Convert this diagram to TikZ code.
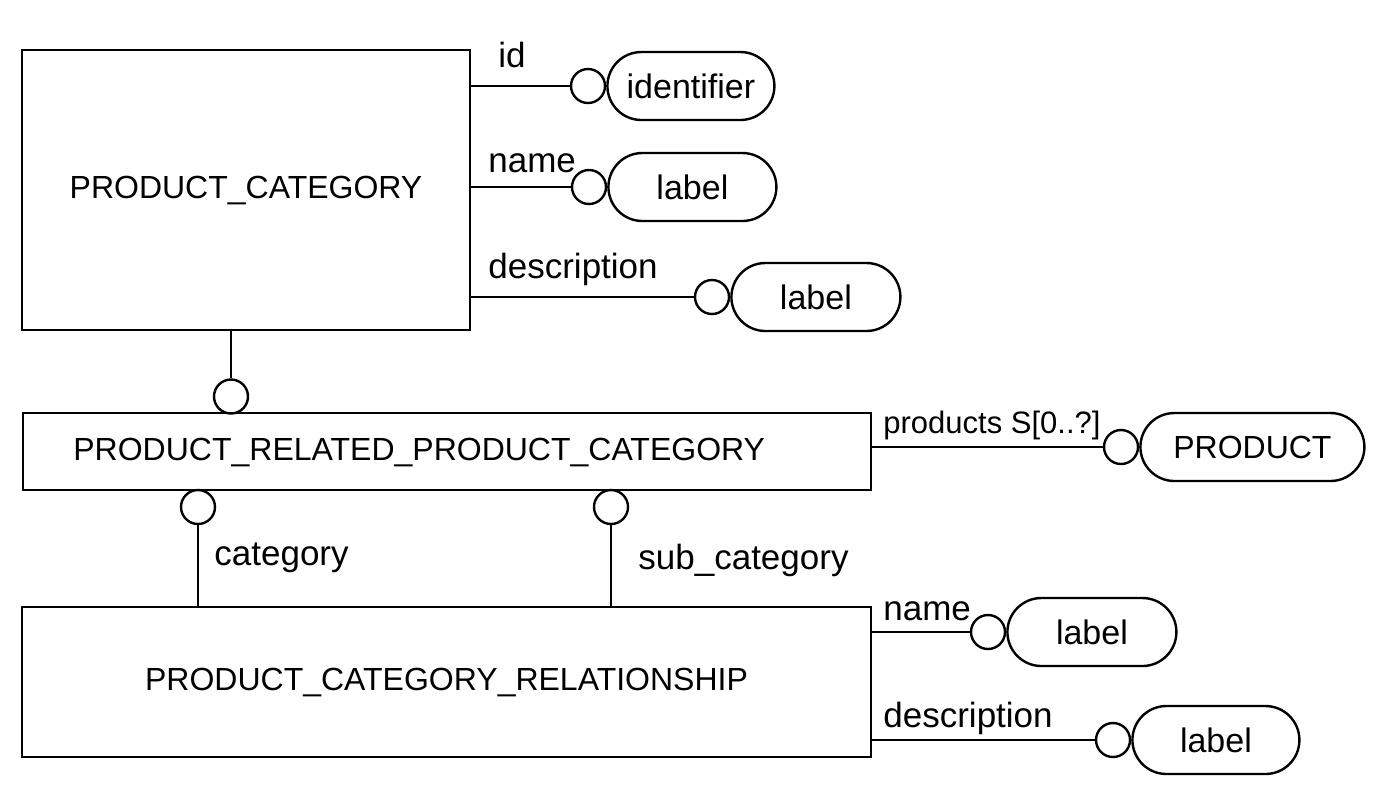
\documentclass[tikz,border=0pt]{standalone}
\usepackage{fontspec}
\setmainfont{Liberation Sans}
\usetikzlibrary{shapes.misc}
\tikzset{
  ent/.style={draw, line width=1.2pt, inner sep=0pt, font=\fontsize{16}{16}\selectfont},
  pill/.style={draw, line width=1.2pt, rounded rectangle, inner sep=0pt, minimum height=34pt, font=\fontsize{17}{17}\selectfont},
  ring/.style={draw, circle, line width=1.2pt, minimum size=17pt, inner sep=0pt},
  lab/.style={anchor=base west, inner sep=0pt, font=\fontsize{17.5}{17.5}\selectfont},
  conn/.style={line width=1.2pt}
}
\begin{document}
\begin{tikzpicture}[x=0.5pt,y=-0.5pt]
\useasboundingbox (0,0) rectangle (1395,789);

% entities
\node[ent, minimum width=224pt, minimum height=140pt] (pc) at (246,190) {PRODUCT\_CATEGORY};
\node[ent, minimum width=424pt, minimum height=38.5pt] (prpc) at (447,451.5) {};
\node[anchor=west, inner sep=0pt, font=\fontsize{16}{16}\selectfont] (prpct) at (73,452) {PRODUCT\_RELATED\_PRODUCT\_CATEGORY};
\node[ent, minimum width=424.5pt, minimum height=75pt] (pcr) at (446.5,682) {PRODUCT\_CATEGORY\_RELATIONSHIP};

% attribute rings and pills of PRODUCT_CATEGORY
\node[ring] (idc) at (588,86) {};
\node[pill, minimum width=83.5pt, anchor=west] (idp) at (idc.east) {identifier};
\node[ring] (nmc) at (589,187) {};
\node[pill, minimum width=84pt, anchor=west] (nmp) at (nmc.east) {label};
\node[ring] (dsc) at (712,297) {};
\node[pill, minimum width=84.5pt, anchor=west] (dsp) at (dsc.east) {label};

\draw[conn] (pc.east |- idc) -- (idc.west);
\draw[conn] (pc.east |- nmc) -- (nmc.west);
\draw[conn] (pc.east |- dsc) -- (dsc.west);
\node[lab] (idl) at (498,67) {id};
\node[lab] (nml) at (488,172) {name};
\node[lab] (dsl) at (488,278) {description};

% link PRODUCT_CATEGORY -- PRODUCT_RELATED_PRODUCT_CATEGORY
\node[ring] (r1) at (231,396.5) {};
\draw[conn] (pc.south -| r1) -- (r1.north);

% products
\node[ring] (prc) at (1121,447) {};
\node[pill, minimum width=112pt, anchor=west, font=\fontsize{16}{16}\selectfont] (prp) at (prc.east) {PRODUCT};
\draw[conn] (prpc.east |- prc) -- (prc.west);
\node[lab, font=\fontsize{15.5}{15.5}\selectfont] (prl) at (883,433) {products S[0..?]};

% links to PRODUCT_CATEGORY_RELATIONSHIP
\node[ring] (r2) at (198,507) {};
\node[ring] (r3) at (611,507) {};
\draw[conn] (r2.south) -- (pcr.north -| r2);
\draw[conn] (r3.south) -- (pcr.north -| r3);
\node[lab] (catl) at (214,565) {category};
\node[lab] (subl) at (638,569) {sub\_category};

% attributes of PRODUCT_CATEGORY_RELATIONSHIP
\node[ring] (nm2c) at (988,632) {};
\node[pill, minimum width=84.5pt, anchor=west] (nm2p) at (nm2c.east) {label};
\node[ring] (ds2c) at (1113,740) {};
\node[pill, minimum width=83.5pt, anchor=west] (ds2p) at (ds2c.east) {label};
\draw[conn] (pcr.east |- nm2c) -- (nm2c.west);
\draw[conn] (pcr.east |- ds2c) -- (ds2c.west);
\node[lab] (nm2l) at (883,620) {name};
\node[lab] (ds2l) at (883,727) {description};
\end{tikzpicture}
\end{document}
